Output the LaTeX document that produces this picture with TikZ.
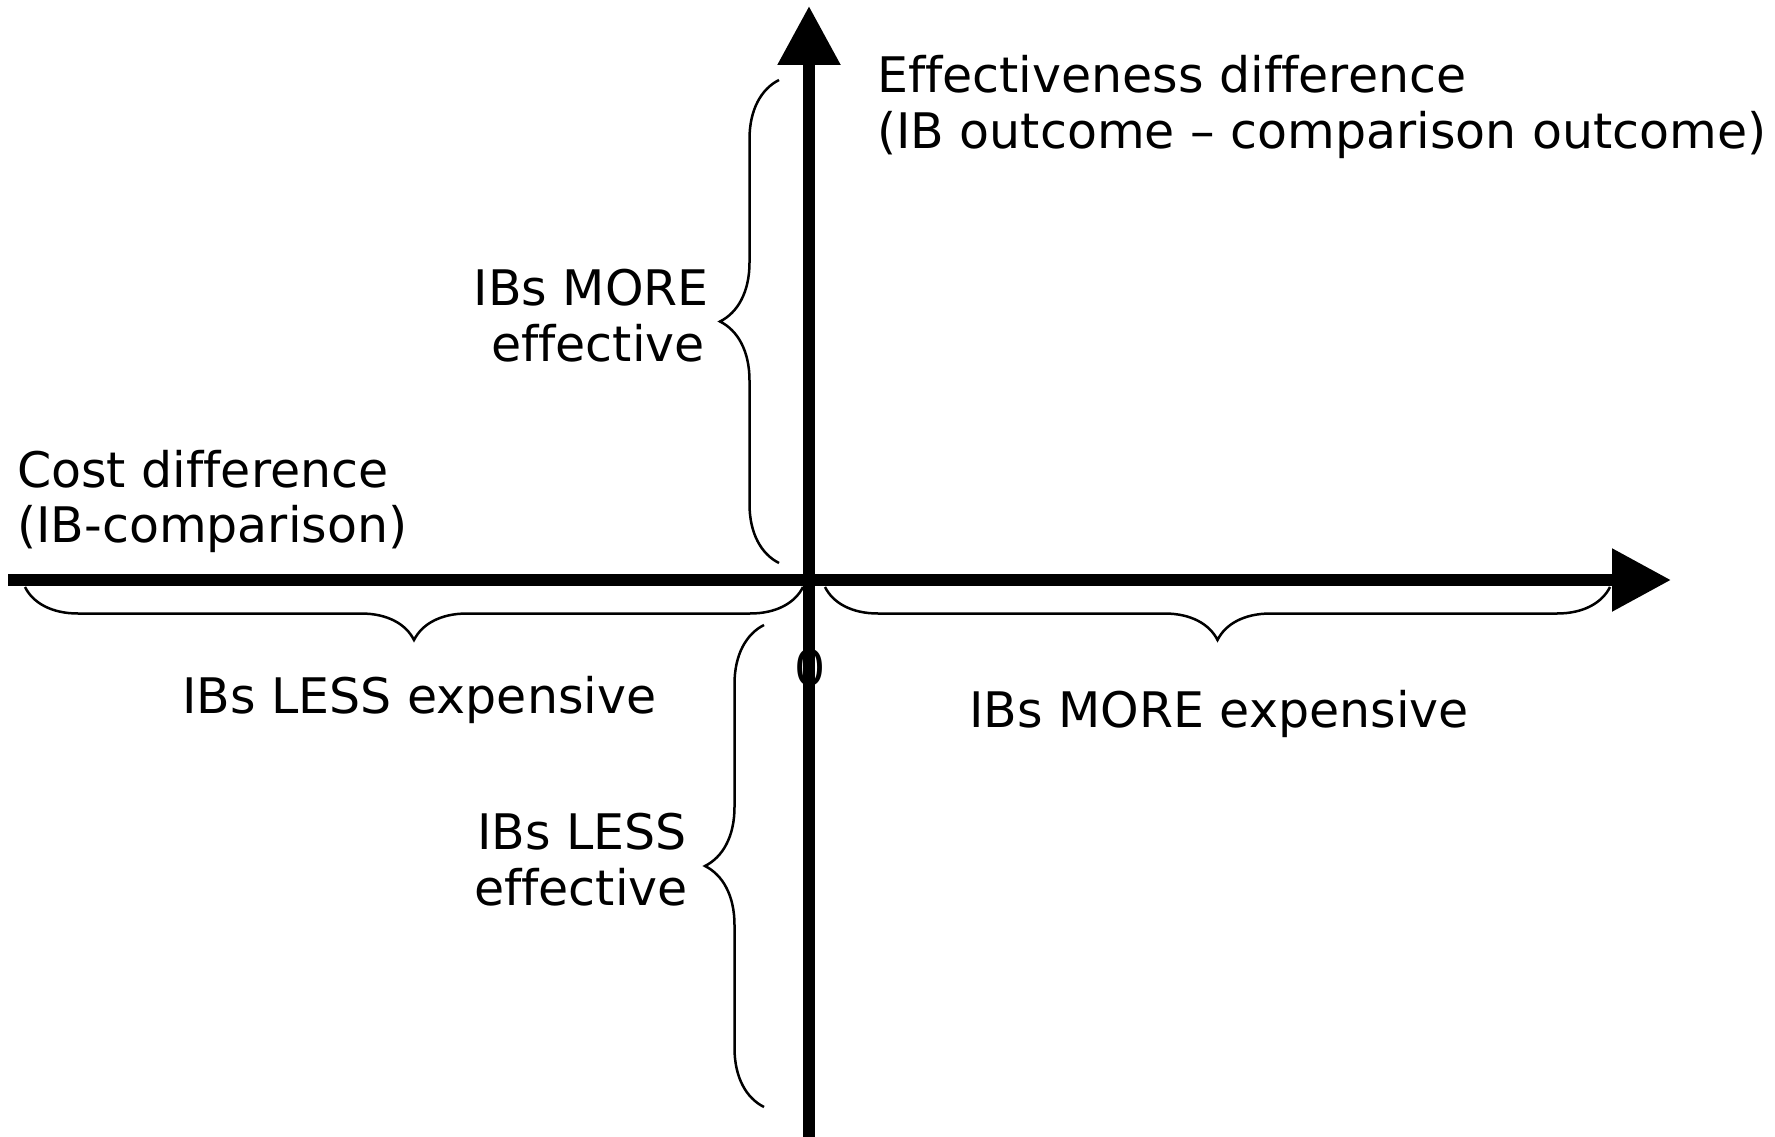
\documentclass[tikz,border=0pt]{standalone}
\usepackage{fontspec}
\setmainfont[Ligatures=NoCommon]{DejaVu Sans}
\usetikzlibrary{arrows.meta,decorations.pathreplacing}
\begin{document}
\begin{tikzpicture}[x=1pt,y=-1pt,
  axisline/.style={line width=12pt,-{Triangle[length=59pt,width=60pt]}},
  hbrace/.style={decorate,decoration={brace,amplitude=53pt},line width=2.5pt},
  vbrace/.style={decorate,decoration={brace,amplitude=59pt},line width=2.5pt},
  lbl/.style={inner sep=0pt,font=\fontsize{49}{58}\selectfont}]
\useasboundingbox (0,0) rectangle (1775,1137);
% labels
\node[lbl,anchor=base west] (eff1) at (877,93) {Effectiveness difference};
\node[lbl,anchor=base west] (eff2) at (877,149) {(IB outcome – comparison outcome)};
\node[lbl,anchor=base west] (cost1) at (17,487) {Cost difference};
\node[lbl,anchor=base west] (cost2) at (17,542) {(IB-comparison)};
\node[lbl,anchor=base east] (more1) at (709,305) {IBs MORE};
\node[lbl,anchor=base east] (more2) at (705,361) {effective};
\node[lbl,anchor=base east] (less1) at (687,849) {IBs LESS};
\node[lbl,anchor=base east] (less2) at (688,905) {effective};
\node[lbl,anchor=base west] (lessexp) at (182,713) {IBs LESS expensive};
\node[lbl,anchor=base west] (moreexp) at (969,727) {IBs MORE expensive};
\node[lbl,anchor=base] (zero) at (810,685) {0};
% axes
\coordinate (xl) at (8,580);
\coordinate (xr) at (1671,580);
\coordinate (yb) at (809,1137);
\coordinate (yt) at (809,6);
\draw[axisline] (xl) -- (xr);
\draw[axisline] (yb) -- (yt);
% braces
\coordinate (b1s) at (803,587);
\coordinate (b1e) at (25,587);
\coordinate (b2s) at (1610,587);
\coordinate (b2e) at (825,587);
\coordinate (b3s) at (779,563);
\coordinate (b3e) at (779,80);
\coordinate (b4s) at (764,1107);
\coordinate (b4e) at (764,625);
\draw[hbrace] (b1s) -- (b1e);
\draw[hbrace] (b2s) -- (b2e);
\draw[vbrace] (b3s) -- (b3e);
\draw[vbrace] (b4s) -- (b4e);
\end{tikzpicture}
\end{document}
